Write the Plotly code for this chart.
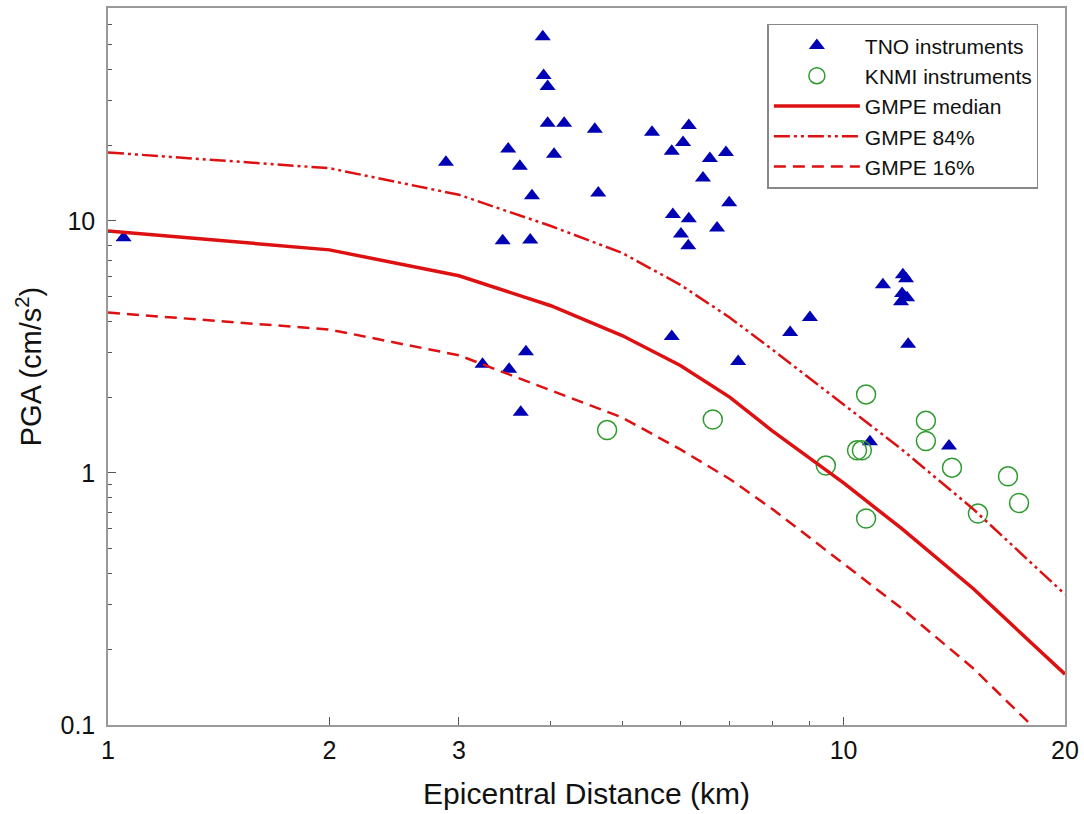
import plotly.graph_objects as go

# ---- data ----
tno_dist = [1.05, 2.88, 3.44, 3.50, 3.63, 3.77, 3.75, 3.90, 3.91, 3.96, 3.96, 4.17, 4.04,
            4.59, 4.64, 3.23, 3.51, 3.70, 3.64,
            5.49, 6.16, 6.05, 5.84, 6.92, 6.58, 6.44, 6.99, 5.86, 6.16, 6.01, 6.73, 6.15,
            5.84, 7.19,
            12.04, 12.16, 11.31, 12.01, 12.2, 11.97, 9.00, 8.46, 12.24, 10.86, 13.91]
tno_pga = [8.57, 17.1, 8.34, 19.3, 16.5, 12.6, 8.4, 53.8, 37.8, 34.2, 24.4, 24.4, 18.4,
           23.1, 12.9, 2.70, 2.58, 3.03, 1.74,
           22.5, 23.9, 20.5, 18.9, 18.7, 17.7, 14.8, 11.8, 10.6, 10.2, 8.88, 9.38, 7.97,
           3.48, 2.77,
           6.12, 5.90, 5.58, 5.15, 4.96, 4.78, 4.14, 3.61, 3.24, 1.33, 1.28]

knmi_dist = [4.77, 6.64, 10.73, 12.94, 12.94, 10.43, 10.59, 9.46, 14.04, 16.73, 17.32, 15.23, 10.73]
knmi_pga = [1.48, 1.63, 2.05, 1.61, 1.34, 1.23, 1.23, 1.07, 1.05, 0.97, 0.76, 0.69, 0.66]

gmpe_dist = [1, 2, 3, 4, 5, 6, 7, 8, 10, 12, 15, 20]
gmpe_median = [9.13, 7.68, 6.06, 4.61, 3.51, 2.67, 2.00, 1.47, 0.913, 0.601, 0.348, 0.159]
gmpe_84 = [18.7, 16.2, 12.7, 9.55, 7.47, 5.58, 4.14, 3.09, 1.87, 1.24, 0.72, 0.33]
gmpe_16 = [4.33, 3.71, 2.93, 2.13, 1.66, 1.24, 0.947, 0.72, 0.437, 0.29, 0.168, 0.074]

x_major = [1, 2, 3, 10, 20]
x_minor = [4, 5, 6, 7, 8, 9]
y_major = [0.1, 1, 10]
y_minor = [0.2, 0.3, 0.4, 0.5, 0.6, 0.7, 0.8, 0.9, 2, 3, 4, 5, 6, 7, 8, 9,
           20, 30, 40, 50, 60, 70]

RED = "#dd1111"
FONT = "Liberation Sans, Arial, sans-serif"

fig = go.Figure()
fig.add_trace(go.Scatter(x=tno_dist, y=tno_pga, mode="markers", name="TNO instruments",
                         marker=dict(symbol="triangle-up", size=14, color="#0000b4",
                                     line=dict(width=0))))
fig.add_trace(go.Scatter(x=knmi_dist, y=knmi_pga, mode="markers", name="KNMI instruments",
                         marker=dict(symbol="circle-open", size=19, color="#2e9a2e",
                                     line=dict(width=1.5, color="#2e9a2e"))))
fig.add_trace(go.Scatter(x=gmpe_dist, y=gmpe_median, mode="lines", name="GMPE median",
                         line=dict(color=RED, width=3.5)))
fig.add_trace(go.Scatter(x=gmpe_dist, y=gmpe_84, mode="lines", name="GMPE 84%",
                         line=dict(color=RED, width=2.5, dash="16px,4px,3px,4px,3px,4px")))
fig.add_trace(go.Scatter(x=gmpe_dist, y=gmpe_16, mode="lines", name="GMPE 16%",
                         line=dict(color=RED, width=2.5, dash="12px,7px")))

axis_common = dict(showline=True, linecolor="#999999", linewidth=1.5, mirror=True,
                   showgrid=False, zeroline=False, ticks="inside", ticklen=8,
                   tickwidth=1, tickcolor="#555555", automargin=False,
                   tickfont=dict(family=FONT, size=25, color="#111111"))

fig.update_xaxes(type="log", range=[0, 1.30103], tickmode="array", tickvals=x_major,
                 ticktext=[str(v) for v in x_major],
                 minor=dict(tickmode="array", tickvals=x_minor, ticks="inside", ticklen=4,
                            tickcolor="#555555", showgrid=False),
                 title=dict(text="Epicentral Distance (km)",
                            font=dict(family=FONT, size=30, color="#111111"), standoff=20),
                 ticklabelstandoff=2,
                 **axis_common)
fig.update_yaxes(type="log", range=[-1, 1.8451], tickmode="array", tickvals=y_major,
                 ticktext=["0.1", "1", "10"],
                 minor=dict(tickmode="array", tickvals=y_minor, ticks="inside", ticklen=4,
                            tickcolor="#555555", showgrid=False),
                 title=dict(text="PGA (cm/s<sup>2</sup>)",
                            font=dict(family=FONT, size=29, color="#111111"), standoff=10),
                 ticklabelstandoff=6,
                 **axis_common)

fig.update_layout(
    width=1084, height=814,
    margin=dict(l=108, r=19, t=8, b=89),
    paper_bgcolor="white", plot_bgcolor="white",
    font=dict(family=FONT, color="#111111"),
    legend=dict(x=0.689, y=0.978, xanchor="left", yanchor="top",
                bgcolor="white", bordercolor="#888888", borderwidth=1.5,
                font=dict(family=FONT, size=21, color="#111111"),
                itemsizing="trace", itemwidth=86),
)

fig.write_html("out.html")
